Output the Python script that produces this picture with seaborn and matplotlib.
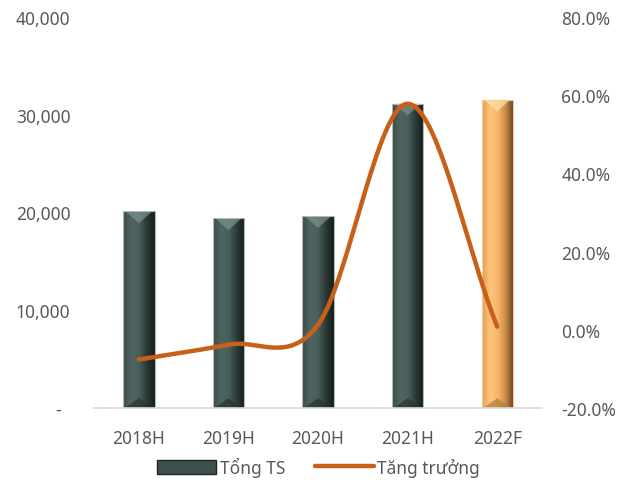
import numpy as np
import pandas as pd
import matplotlib
matplotlib.use("Agg")
import matplotlib.pyplot as plt
import seaborn as sns
from matplotlib.colors import LinearSegmentedColormap
from matplotlib.patches import Patch, Polygon
from matplotlib.lines import Line2D
from matplotlib.ticker import FuncFormatter

# Data
years = ["2018H", "2019H", "2020H", "2021H", "2022F"]
total_assets = [20100, 19400, 19620, 31120, 31530]
growth_pct = [-7.6, -3.8, 1.3, 57.8, 0.8]
series_labels = ["Tổng TS", "Tăng trưởng"]

TEXT = "#595959"
LINE = "#c9601a"

sns.set_theme(style="white")
plt.rcParams["font.family"] = ["Noto Sans", "DejaVu Sans"]
plt.rcParams["font.size"] = 12.5

fig = plt.figure(figsize=(6.31, 4.85), dpi=100)
ax = fig.add_axes([0.149, 0.1567, 0.710, 0.8063])

df = pd.DataFrame({"year": years, "value": total_assets})
kind = ["hist"] * (len(years) - 1) + ["fcst"]
df["kind"] = kind
sns.barplot(data=df, x="year", y="value", hue="kind", dodge=False,
            palette={"hist": "#4b5e5a", "fcst": "#f6b66c"},
            width=0.35, legend=False, ax=ax, zorder=2)

ax.set_xlim(-0.5, len(years) - 0.5)
ax.set_ylim(0, 40000)
ax.set_yticks([0, 10000, 20000, 30000, 40000])
ax.yaxis.set_major_formatter(FuncFormatter(lambda v, p: "-  " if v == 0 else f"{v:,.0f}"))
ax.set_xlabel("")
ax.set_ylabel("")
for s in ["top", "right", "left"]:
    ax.spines[s].set_visible(False)
ax.spines["bottom"].set_color("#d9d9d9")
ax.spines["bottom"].set_linewidth(1.2)
ax.tick_params(axis="y", length=0, pad=17, colors=TEXT, labelsize=12.5)
ax.tick_params(axis="x", length=0, pad=15, colors=TEXT, labelsize=12.5)

# Bevelled shading on each bar
shade = {
    "hist": ["#3c4d4a", "#4f6561", "#4a5e5a", "#2b3a37", "#151e1c"],
    "fcst": ["#e3a05a", "#fcc47c", "#f7b66b", "#c98a45", "#5e3f1c"],
}
top_tri = {"hist": "#7d938f", "fcst": "#ffe3a6"}
bot_tri = {"hist": "#26322f", "fcst": "#b47a3a"}
for patch, k in zip(ax.patches, kind):
    x0, y0 = patch.get_x(), patch.get_y()
    w, h = patch.get_width(), patch.get_height()
    cmap = LinearSegmentedColormap.from_list("b", shade[k])
    grad = np.linspace(0, 1, 64)[None, :]
    im = ax.imshow(grad, cmap=cmap, extent=(x0, x0 + w, y0, y0 + h),
                   aspect="auto", zorder=2.1, interpolation="bicubic")
    im.set_clip_path(patch)
    top = y0 + h
    ax.add_patch(Polygon([(x0 + 0.03, top), (x0 + w - 0.03, top), (x0 + w / 2, top - 1200)],
                         closed=True, facecolor=top_tri[k], edgecolor="none",
                         alpha=0.7, zorder=2.2))
    ax.add_patch(Polygon([(x0 + 0.02, y0), (x0 + w - 0.02, y0), (x0 + w / 2, y0 + 1000)],
                         closed=True, facecolor=bot_tri[k], edgecolor="none",
                         alpha=0.7, zorder=2.2))
    ax.add_patch(plt.Rectangle((x0, y0), w, h, fill=False,
                               edgecolor="#b0b8b6" if k == "hist" else "#f3c9a0",
                               linewidth=0.8, zorder=2.3))

ax.set_xlim(-0.5, len(years) - 0.5)
ax.set_ylim(0, 40000)

# Growth line on secondary axis, smoothed with a cardinal spline
ax2 = ax.twinx()
xs = np.arange(len(years), dtype=float)
ys = np.array(growth_pct, dtype=float)
tang = np.zeros_like(ys)
tang[1:-1] = (ys[2:] - ys[:-2]) / 2
tang[0] = ys[1] - ys[0]
tang[-1] = ys[-1] - ys[-2]
cx, cy = [], []
for i in range(len(xs) - 1):
    t = np.linspace(0, 1, 40)
    h00 = 2 * t**3 - 3 * t**2 + 1
    h10 = t**3 - 2 * t**2 + t
    h01 = -2 * t**3 + 3 * t**2
    h11 = t**3 - t**2
    cx.extend(xs[i] + t)
    cy.extend(h00 * ys[i] + h10 * tang[i] + h01 * ys[i + 1] + h11 * tang[i + 1])
curve = pd.DataFrame({"x": cx, "y": cy})
sns.lineplot(data=curve, x="x", y="y", sort=False, color=LINE, linewidth=3.2,
             ax=ax2, zorder=3, solid_capstyle="round")
ax2.set_ylim(-20, 80)
ax2.set_yticks([-20, 0, 20, 40, 60, 80])
ax2.yaxis.set_major_formatter(FuncFormatter(lambda v, p: f"{v:.1f}%"))
ax2.set_xlim(-0.5, len(years) - 0.5)
ax2.set_ylabel("")
ax2.set_xlabel("")
for s in ["top", "right", "left", "bottom"]:
    ax2.spines[s].set_visible(False)
ax2.tick_params(axis="y", length=0, pad=14, colors=TEXT, labelsize=12.5)

handles = [
    Patch(facecolor="#3f514e", edgecolor="#1c2624", linewidth=1.0),
    Line2D([0], [0], color=LINE, linewidth=3.2, solid_capstyle="round"),
]
fig.legend(handles, series_labels, loc="center", bbox_to_anchor=(0.505, 0.035),
           ncol=2, frameon=False, fontsize=12.5, labelcolor=TEXT,
           handlelength=3.4, handleheight=0.9, handletextpad=0.2, columnspacing=1.7)

fig.savefig("out.png", dpi=100)
